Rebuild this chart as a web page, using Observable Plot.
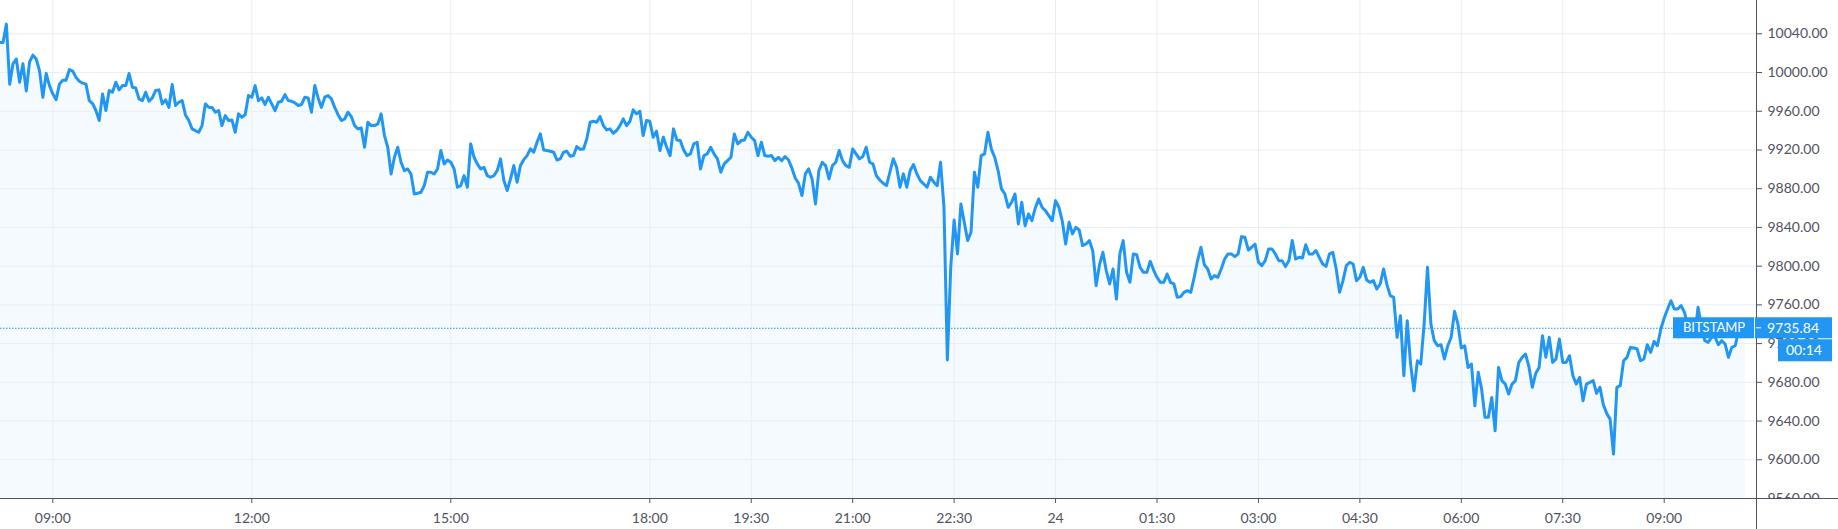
<!DOCTYPE html>
<html>
<head>
<meta charset="utf-8">
<script src="https://cdn.jsdelivr.net/npm/d3@7"></script>
<script src="https://cdn.jsdelivr.net/npm/@observablehq/plot@0.6"></script>
<style>
html, body { margin: 0; padding: 0; background: #fff; overflow: hidden; }
#chart svg { display: block; }
</style>
</head>
<body>
<div id="chart"></div>
<script>
// ---- data ----
const startTime = "2019-07-23T08:12:00Z";   // first bar
const stepMinutes = 3;                       // bar spacing

const pricesMorning = [
  10031, 10031, 10050, 9988, 10009, 10014, 9990, 10009, 9981, 10011,
  10018, 10014, 10002, 9974.5, 9999, 9986.5, 9978, 9972, 9988, 9992,
  9992, 10003, 10001.5, 9995, 9991, 9989, 9988, 9971, 9968, 9960.7,
  9950.4, 9977.9, 9960.7, 9981.4, 9979.7, 9990, 9982, 9986.5, 9986.5, 9999,
  9984.8, 9984, 9972.8, 9971, 9979.7, 9970.3, 9973.8, 9981.4, 9982.1, 9967.6,
  9971.7, 9964, 9987.6, 9965.9, 9969.3, 9971, 9956.2, 9950.4, 9941.8, 9940,
  9938.3, 9945.2, 9967.6, 9964.1, 9964, 9959, 9960.7, 9945.2, 9955.5, 9950.4,
  9951, 9938.3, 9957.3, 9953.8, 9956.5, 9976.2, 9974.5, 9986.5, 9971, 9973.8,
  9967, 9974.5, 9967.6, 9960.7, 9969.3, 9970.3, 9977.2, 9971, 9970.3, 9968.6,
  9965.9, 9967, 9974.5, 9973.8, 9959, 9986.5, 9973.8, 9964, 9974.5, 9976.2,
  9972.8, 9964, 9956.5, 9950.4, 9952, 9959, 9954.5, 9945.2, 9941.8, 9942.8,
  9922.8, 9948.7, 9945.2, 9945.2, 9946.9, 9957.3, 9934.9, 9922.8, 9895.2, 9912.5,
  9922.8, 9907.3, 9898.7, 9900.4, 9895.2, 9874.6, 9875.3, 9876.3, 9883.2, 9897,
  9897, 9895.2, 9900.4, 9919.4, 9905.6, 9909.7, 9907.3, 9900.4, 9881.5
];
const pricesAfternoon = [
  9883.2, 9893.5, 9881.5, 9926.3, 9912.5, 9905.6, 9900.4, 9902.1, 9893.5, 9891.8, 9893.5,
  9898.7, 9910.8, 9888.4, 9878, 9890.1, 9903.9, 9886.6, 9903.9, 9910, 9914.2,
  9921.1, 9917.7, 9928, 9936.6, 9920, 9919.4, 9918.7, 9917.7, 9909.7, 9910.8,
  9917.7, 9918.7, 9913.5, 9914.2, 9923.5, 9920.8, 9921.1, 9931.4, 9948.7, 9949.7,
  9948.7, 9954.5, 9945.2, 9940.7, 9941.8, 9937.3, 9940.1, 9945.2, 9952.1, 9945.2,
  9949.7, 9961.4, 9957.3, 9960, 9934.9, 9950.4, 9949.7, 9933.2, 9939.4, 9919.4,
  9933.2, 9922.8, 9914.2, 9941.8, 9930.4, 9929.7, 9920.1, 9914.2, 9915.9, 9926.3,
  9928, 9900.4, 9914.2, 9915.9, 9922.8, 9915.9, 9910.8, 9897, 9905.6, 9909,
  9912.5, 9936.6, 9926.3, 9929.7, 9930.4, 9938.3, 9933.2, 9929.7, 9914.2, 9928,
  9914.2, 9913.5, 9914.2, 9909, 9912.5, 9909, 9913.2, 9909.7, 9901.5, 9891.1,
  9885.6, 9872.9, 9895.3, 9900.4, 9890.1, 9864.3, 9898.7, 9907.3, 9903.9, 9890.1,
  9903.9, 9907.3, 9919.4, 9909, 9903.9, 9902.1, 9921.1, 9915.9, 9910.8, 9913.2,
  9922.8, 9907.3, 9905.6, 9893.5, 9889, 9885.6, 9883.2, 9897, 9910.8, 9902.1,
  9881.5, 9895.3, 9881.5, 9898.7, 9904.9, 9895.3
];
const pricesNight = [
  9888.4, 9884.9, 9881.5, 9891.8, 9886.7, 9883.2, 9907.3, 9860.8, 9703, 9798.8,
  9847.7, 9812.6, 9864.3, 9845.3, 9826.4, 9835, 9897, 9881.5, 9914.2, 9915.9,
  9938.3, 9921.1, 9912.5, 9898.7, 9879.8, 9874.6, 9860.8, 9866, 9874.6, 9843.6,
  9866, 9841.8, 9853.9, 9847, 9860.1, 9869.4, 9860.8, 9857.4, 9852.2, 9847,
  9867.7, 9860.8, 9846.3, 9822.9, 9845.3, 9833.3, 9840.1, 9837.4, 9821.2, 9822.9,
  9826.4, 9816, 9779.9, 9801.5, 9814.3, 9795.4, 9781.6, 9797.1, 9766, 9812.6,
  9826.4, 9793.6, 9783.3, 9812.6, 9811.9, 9798.8, 9793.6, 9793.6, 9805, 9796,
  9788.5, 9783.3, 9783.3, 9791.9, 9783.3, 9781.6, 9767.8, 9768.5, 9773, 9774.7,
  9773, 9788.5, 9805.7, 9819.5, 9801.5, 9797.1, 9786.7, 9790.2, 9788.5, 9797.1,
  9807.4, 9812.6, 9812.6, 9809.8, 9812.6, 9830.5, 9829.8, 9816.7, 9819.5, 9822.9,
  9804, 9800.5, 9805.7, 9817.7, 9817.7, 9812.6, 9805.7, 9805.7, 9799.5, 9805.7,
  9826.4, 9807.4, 9809.1, 9808.4, 9822.2, 9812.6, 9812.6, 9816, 9809.1, 9802.2,
  9799.8, 9812.6, 9814.3, 9797.1, 9773, 9785, 9800.5, 9804, 9802.2, 9785,
  9788.5, 9798.8, 9785.7, 9783.3, 9785, 9776.4, 9781.6
];
const pricesDawn = [
  9797.1, 9780.9, 9769.5, 9767.8, 9726.5, 9748.8, 9686.8, 9743.7, 9698.9, 9671.3,
  9702.3, 9698.9, 9740.2, 9798.8, 9740.2, 9723, 9717.8, 9718.9, 9704.1, 9717.8,
  9726.5, 9753.3, 9740.2, 9715.4, 9717.8, 9695.4, 9698.9, 9655.8, 9690.3, 9673.1,
  9643.8, 9643.8, 9664.4, 9630, 9695.4, 9681.7, 9678.2, 9667.9, 9678.2, 9681.7,
  9700.6, 9705.8, 9709.2, 9696.1, 9674.8, 9689.2, 9695.4, 9728.2, 9705.8, 9726.5,
  9700.6, 9704.1, 9724.7, 9700.6, 9700.6, 9707.5, 9686.8, 9678.2, 9685.1, 9661,
  9678.2, 9679.9, 9681.7, 9668.6, 9674.8, 9656.9, 9647.9, 9642, 9605.9, 9674.8,
  9676.5, 9702.3, 9705.8, 9716.1, 9715.4, 9714.4, 9702.3, 9704.1, 9718.9, 9710.9,
  9722.3, 9717.8, 9735.1, 9746.4, 9755.7, 9764.3, 9755.7, 9755.7, 9759.2, 9752.3,
  9738.5, 9740.2, 9727.1, 9757.5, 9738.5, 9723, 9721.3, 9726.5, 9727.1, 9718.9,
  9723, 9719.6, 9705.8, 9716.1, 9717.8, 9733.3, 9735.1, 9735.84
];

const lastPrice = 9735.84;
const exchangeLabel = "BITSTAMP";
const countdownLabel = "00:14";

const xTickLabels = [
  "2019-07-23T09:00:00Z", "2019-07-23T12:00:00Z", "2019-07-23T15:00:00Z",
  "2019-07-23T18:00:00Z", "2019-07-23T19:30:00Z", "2019-07-23T21:00:00Z",
  "2019-07-23T22:30:00Z", "2019-07-24T00:00:00Z", "2019-07-24T01:30:00Z",
  "2019-07-24T03:00:00Z", "2019-07-24T04:30:00Z", "2019-07-24T06:00:00Z",
  "2019-07-24T07:30:00Z", "2019-07-24T09:00:00Z"
];
const yTickValues = [9560, 9600, 9640, 9680, 9720, 9760, 9800, 9840, 9880, 9920, 9960, 10000, 10040, 10080];

// ---- build ----
const prices = [...pricesMorning, ...pricesAfternoon, ...pricesNight, ...pricesDawn];
const t0 = new Date(startTime).getTime();
const data = prices.map((p, i) => ({time: new Date(t0 + i * stepMinutes * 60000), price: p}));
const xTicks = xTickLabels.map(s => new Date(s));

const fmtHM = d3.utcFormat("%H:%M");
const fmtDay = d3.utcFormat("%-d");
const fmtX = d => (d.getUTCHours() === 0 && d.getUTCMinutes() === 0) ? fmtDay(d) : fmtHM(d);

const W = 1838, H = 529, MR = 82, MB = 31;
const blue = "#2196f3";
const axisColor = "#50535e";
const gridColor = "#e8eef4";
const font = "Lato, Roboto, sans-serif";

const chart = Plot.plot({
  width: W, height: H,
  marginLeft: 0, marginRight: MR, marginTop: 0, marginBottom: MB,
  style: {fontFamily: font, fontSize: "14px", background: "#fff", color: axisColor, overflow: "visible"},
  x: {type: "utc",
      domain: [new Date("2019-07-23T09:00:00Z"), new Date("2019-07-23T18:00:00Z"), new Date("2019-07-24T09:00:00Z")],
      range: [52.3, 649.3, 1663.7]},
  y: {domain: [9560, 10074.4]},
  marks: [
    Plot.areaY(data, {x: "time", y1: 9560, y2: "price", fill: blue, fillOpacity: 0.05}),
    Plot.gridX(xTicks, {stroke: gridColor, strokeOpacity: 1}),
    Plot.gridY(yTickValues, {stroke: gridColor, strokeOpacity: 1}),
    Plot.ruleY([lastPrice], {stroke: blue, strokeWidth: 1, strokeDasharray: "1.5,1.5"}),
    Plot.lineY(data, {x: "time", y: "price", stroke: blue, strokeWidth: 3, strokeLinejoin: "round"}),
    Plot.axisX(xTicks, {anchor: "bottom", tickSize: 5, tickPadding: 10, tickFormat: fmtX, label: null}),
    Plot.axisY(yTickValues, {anchor: "right", tickSize: 5, tickPadding: 6, tickFormat: d3.format(".2f"), label: null})
  ]
});

document.getElementById("chart").appendChild(chart);

// ---- decorations (axis lines, price labels) ----
const svg = d3.select(chart);
const yS = chart.scale("y");
const yBottom = yS.apply(9560);
const xRight = W - MR;

// clip y tick labels to the pane height
const defs = svg.append("defs");
defs.append("clipPath").attr("id", "yclip")
  .append("rect").attr("x", xRight).attr("y", -40).attr("width", MR + 10).attr("height", yBottom + 40);
svg.selectAll("g[aria-label='y-axis tick label']").attr("clip-path", "url(#yclip)");

svg.append("line").attr("x1", 0).attr("x2", W).attr("y1", yBottom + 0.5).attr("y2", yBottom + 0.5)
  .attr("stroke", axisColor).attr("stroke-width", 1);
svg.append("line").attr("x1", xRight + 0.5).attr("x2", xRight + 0.5).attr("y1", 0).attr("y2", H)
  .attr("stroke", axisColor).attr("stroke-width", 1);

const yp = yS.apply(lastPrice);
const g = svg.append("g").attr("font-family", font).attr("fill", "#fff");
// exchange label
g.append("rect").attr("x", 1673).attr("y", yp - 10.5).attr("width", 81).attr("height", 21).attr("fill", blue);
g.append("text").attr("x", 1714).attr("y", yp).attr("dy", "0.35em").attr("text-anchor", "middle")
  .attr("font-size", 13).attr("fill", "#fff").text(exchangeLabel);
// price label
g.append("rect").attr("x", xRight - 1).attr("y", yp - 10.5).attr("width", 77).attr("height", 21).attr("fill", blue);
g.append("line").attr("x1", xRight).attr("x2", xRight + 5).attr("y1", yp).attr("y2", yp).attr("stroke", "#fff");
g.append("text").attr("x", xRight + 11).attr("y", yp).attr("dy", "0.35em").attr("text-anchor", "start")
  .attr("font-size", 14).attr("fill", "#fff").text(d3.format(".2f")(lastPrice));
// countdown
g.append("rect").attr("x", 1778).attr("y", yp + 11.5).attr("width", 54).attr("height", 22).attr("fill", blue);
g.append("text").attr("x", 1804).attr("y", yp + 22.5).attr("dy", "0.35em").attr("text-anchor", "middle")
  .attr("font-size", 14).attr("fill", "#fff").text(countdownLabel);
</script>
</body>
</html>
